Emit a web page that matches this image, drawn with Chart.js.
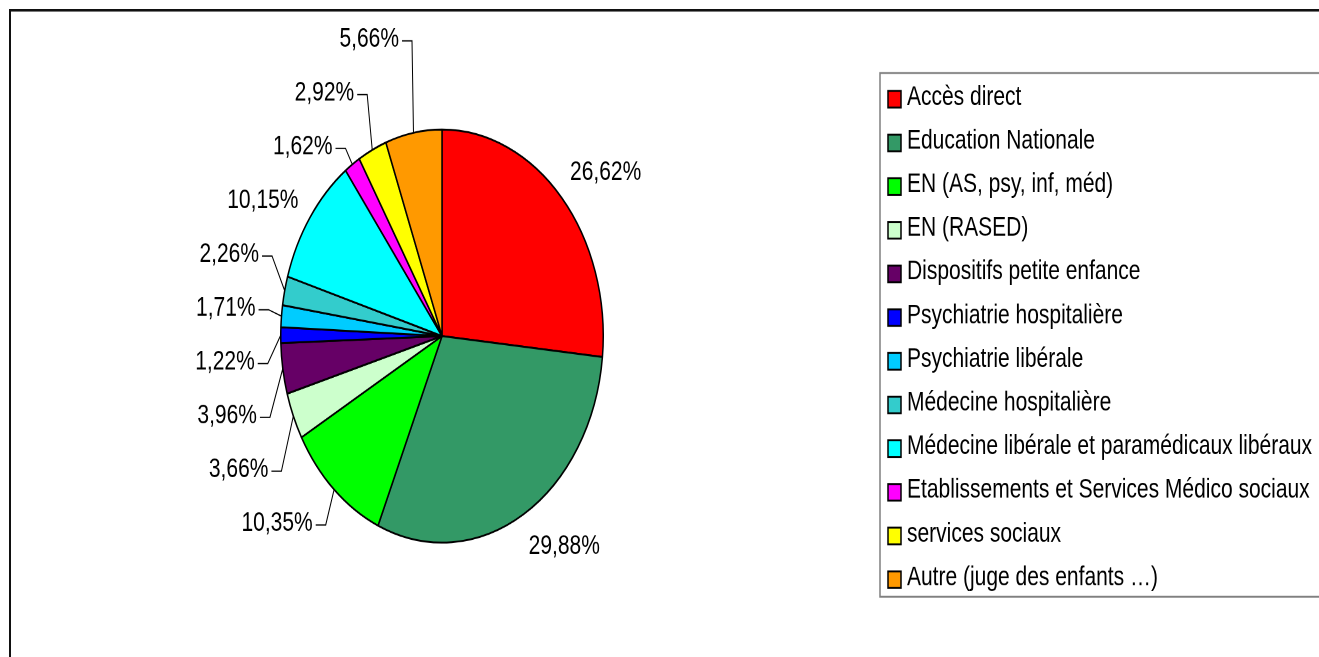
<!DOCTYPE html>
<html>
<head>
<meta charset="utf-8">
<script src="https://cdn.jsdelivr.net/npm/chart.js@4"></script>
<style>
  html, body { margin: 0; padding: 0; background: #fff; }
  #wrap { position: relative; width: 1319px; height: 657px; overflow: hidden; }
  /* the reference is stretched vertically, so the whole drawing is too */
  #chart { position: absolute; left: 0; top: 0; transform: scaleY(1.2807); transform-origin: 0 0; }
</style>
</head>
<body>
<div id="wrap"><canvas id="chart" width="1319" height="513"></canvas></div>
<script>
const categories = [
  "Accès direct",
  "Education Nationale",
  "EN (AS, psy, inf, méd)",
  "EN (RASED)",
  "Dispositifs petite enfance",
  "Psychiatrie hospitalière",
  "Psychiatrie libérale",
  "Médecine hospitalière",
  "Médecine libérale et paramédicaux libéraux",
  "Etablissements et Services Médico sociaux",
  "services sociaux",
  "Autre (juge des enfants …)",
];
const shares = [26.62, 29.88, 10.35, 3.66, 3.96, 1.22, 1.71, 2.26, 10.15, 1.62, 2.92, 5.66];
const sliceColors = [
  "#FF0000", "#339966", "#00FF00", "#CCFFCC", "#660066", "#0000FF",
  "#00CCFF", "#33CCCC", "#00FFFF", "#FF00FF", "#FFFF00", "#FF9900",
];

const FONT = '21px "Liberation Sans", Arial, sans-serif';

function fmtPct(v) {
  return v.toFixed(2).replace(".", ",") + "%";
}

const frameAndLegend = {
  id: "frameAndLegend",
  beforeDraw(chart) {
    const ctx = chart.ctx;
    ctx.save();
    ctx.fillStyle = "#fff";
    ctx.fillRect(0, 0, chart.width, chart.height);
    ctx.restore();
  },
  afterDraw(chart) {
    const ctx = chart.ctx;
    const ds = chart.data.datasets[0];
    ctx.save();
    // outer frame (right and bottom sides fall outside the picture)
    ctx.strokeStyle = "#111";
    ctx.lineWidth = 2;
    ctx.strokeRect(10, 8, chart.width + 20, chart.height + 20);

    // legend box
    ctx.strokeStyle = "#808080";
    ctx.lineWidth = 1.5;
    ctx.strokeRect(880, 57, chart.width, 409);

    ctx.font = FONT;
    ctx.textBaseline = "middle";
    chart.data.labels.forEach((lab, i) => {
      const y = 77.5 + i * 34.1;
      ctx.fillStyle = ds.backgroundColor[i];
      ctx.fillRect(888, y - 6.5, 13, 13);
      ctx.strokeStyle = "#000";
      ctx.lineWidth = 1.5;
      ctx.strokeRect(888, y - 6.5, 13, 13);
      ctx.fillStyle = "#000";
      ctx.fillText(lab, 907, y - 1.5);
    });
    ctx.restore();
  },
};

const pctLabels = {
  id: "pctLabels",
  afterDatasetsDraw(chart) {
    const ctx = chart.ctx;
    const meta = chart.getDatasetMeta(0);
    const values = chart.data.datasets[0].data;

    const items = meta.data.map((arc, i) => {
      const p = arc.getProps(["x", "y", "startAngle", "endAngle", "outerRadius"], true);
      const mid = (p.startAngle + p.endAngle) / 2;
      const cos = Math.cos(mid);
      const sin = Math.sin(mid);
      const R = p.outerRadius + 14;
      return {
        text: fmtPct(values[i]),
        value: values[i],
        left: cos < 0,
        sin: sin,
        x: p.x + R * cos,
        y0: p.y + R * sin + 8 * sin,
        edgeX: p.x + p.outerRadius * cos,
        edgeY: p.y + p.outerRadius * sin,
      };
    });

    // spread the crowded labels on the left side
    const GAP = 42;
    const left = items.filter((d) => d.left).sort((a, b) => a.y0 - b.y0);
    let clusters = left.map((d) => ({ members: [d], mean: d.y0 }));
    let merged = true;
    while (merged) {
      merged = false;
      for (let k = 0; k < clusters.length - 1; k++) {
        const a = clusters[k];
        const b = clusters[k + 1];
        const aBottom = a.mean + (GAP * (a.members.length - 1)) / 2;
        const bTop = b.mean - (GAP * (b.members.length - 1)) / 2;
        if (bTop - aBottom < GAP) {
          const members = a.members.concat(b.members);
          const mean = members.reduce((s, d) => s + d.y0, 0) / members.length;
          clusters.splice(k, 2, { members, mean });
          merged = true;
          break;
        }
      }
    }
    clusters.forEach((c) =>
      c.members.forEach((d, j) => {
        d.y = c.mean + GAP * (j - (c.members.length - 1) / 2);
      })
    );
    items.forEach((d) => {
      if (!d.left) d.y = d.y0 + 7 * d.sin;
    });

    ctx.save();
    ctx.font = FONT;
    ctx.textBaseline = "middle";
    ctx.fillStyle = "#000";
    ctx.strokeStyle = "#000";
    ctx.lineWidth = 1;
    items.forEach((d) => {
      if (!d.left) {
        ctx.textAlign = "left";
        ctx.fillText(d.text, d.x - 2, d.y);
        return;
      }
      const leader = Math.abs(d.y - d.y0) > 4 || d.value < 2;
      ctx.textAlign = "right";
      if (leader) {
        const tx = d.x - 12;
        ctx.fillText(d.text, tx, d.y);
        ctx.beginPath();
        ctx.moveTo(tx + 3, d.y + 1);
        ctx.lineTo(tx + 13, d.y + 1);
        ctx.lineTo(d.edgeX, d.edgeY);
        ctx.stroke();
      } else {
        ctx.fillText(d.text, d.x, d.y);
      }
    });
    ctx.restore();
  },
};

new Chart(document.getElementById("chart"), {
  type: "pie",
  data: {
    labels: categories,
    datasets: [
      {
        data: shares,
        backgroundColor: sliceColors,
        borderColor: "#000",
        borderWidth: 1.5,
      },
    ],
  },
  options: {
    responsive: false,
    animation: false,
    devicePixelRatio: 2,
    events: [],
    layout: { padding: { left: 280, right: 715, top: 100.4, bottom: 88.6 } },
    plugins: {
      legend: { display: false },
      tooltip: { enabled: false },
    },
  },
  plugins: [frameAndLegend, pctLabels],
});
</script>
</body>
</html>
